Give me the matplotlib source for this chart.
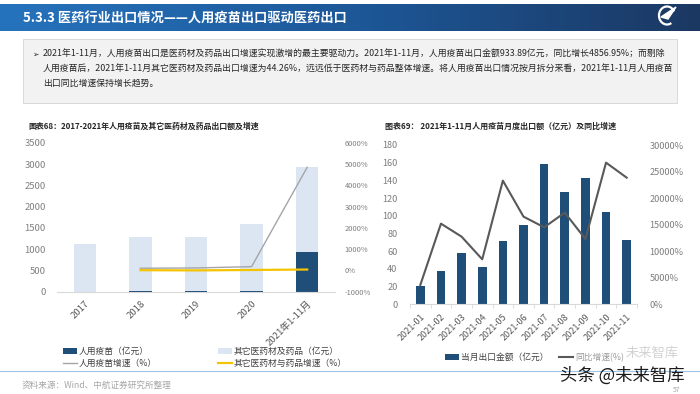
import numpy as np
import matplotlib
matplotlib.use("Agg")
import matplotlib.pyplot as plt
from matplotlib.colors import LinearSegmentedColormap
from matplotlib import patches
from matplotlib.ticker import FuncFormatter, MultipleLocator, FixedLocator

plt.rcParams['font.family'] = ['Noto Sans CJK SC', 'DejaVu Sans']
plt.rcParams['axes.unicode_minus'] = False

# ---------------- data ----------------
years = ['2017', '2018', '2019', '2020', '2021年1-11月']
vaccine = [4.0, 8.1, 9.0, 18.8, 933.89]
other = [1125, 1280, 1280, 1571, 2000]
vaccine_growth = [np.nan, 104, 118, 180, 4856.95]
other_growth = [np.nan, 13, 3, 22, 44.26]

months = ['2021-01', '2021-02', '2021-03', '2021-04', '2021-05', '2021-06',
          '2021-07', '2021-08', '2021-09', '2021-10', '2021-11']
monthly_export = [20.3, 37.3, 58.4, 42.2, 71.5, 89.2, 158.1, 126.9, 142.7, 103.9, 72.7]
monthly_growth = [3640, 15190, 12740, 8475, 23290, 16510, 14500, 17260, 12300, 26680, 23850]

title_text = '5.3.3 医药行业出口情况——人用疫苗出口驱动医药出口'
para_lines = [
    '2021年1-11月，人用疫苗出口是医药材及药品出口增速实现激增的最主要驱动力。2021年1-11月，人用疫苗出口金额933.89亿元，同比增长4856.95%；而剔除',
    '人用疫苗后，2021年1-11月其它医药材及药品出口增速为44.26%，远远低于医药材与药品整体增速。将人用疫苗出口情况按月拆分来看，2021年1-11月人用疫苗',
    '出口同比增速保持增长趋势。',
]

W, H = 700, 394
fig = plt.figure(figsize=(7.0, 3.94), dpi=100)
fig.patch.set_facecolor('white')

def fx(x):
    return x / W

def fy(y):
    return 1 - y / H

# ---------------- header ----------------
hax = fig.add_axes([0, fy(31), 1, 27 / H])
cmap = LinearSegmentedColormap.from_list('hdr', ['#2673bd', '#1d5899', '#1b3862'])
grad = np.linspace(0, 1, 256).reshape(1, -1)
hax.imshow(grad, cmap=cmap, aspect='auto', extent=[0, W, 31, 4])
hax.set_xlim(0, W)
hax.set_ylim(31, 4)
hax.axis('off')
hax.text(23, 18.5, title_text, color='white', fontsize=9.5, fontweight='bold', va='center', ha='left')
hax.add_patch(patches.Arc((667, 15.5), 16, 18, theta1=60, theta2=330, color='white', lw=1.6))
hax.add_patch(patches.Polygon([[661, 17], [676, 7], [668, 19]], closed=True, color='white'))

# ---------------- text box ----------------
fig.patches.append(patches.Rectangle((fx(22.7), fy(103)), (677 - 22.7) / W, 64 / H,
                                     transform=fig.transFigure, facecolor='#f2f2f2',
                                     edgecolor='#d4d4d4', lw=0.6))
fig.text(fx(32), fy(54), '➢', fontsize=5.5, va='center', ha='left', color='#262626',
         family=['DejaVu Sans'])
for i, line in enumerate(para_lines):
    fig.text(fx(43), fy(54 + 14.6 * i), line, fontsize=6.38, va='center', ha='left', color='#262626')

# ---------------- chart titles ----------------
fig.text(fx(28), fy(126), '图表68：2017-2021年人用疫苗及其它医药材及药品出口额及增速',
         fontsize=5.7, fontweight='bold', va='center', ha='left', color='#262626')
fig.text(fx(385), fy(126), '图表69： 2021年1-11月人用疫苗月度出口额（亿元）及同比增速',
         fontsize=5.75, fontweight='bold', va='center', ha='left', color='#262626')

DARK = '#1f4e79'
LIGHT = '#dce6f2'
GRAY_L = '#a5a5a5'
YELLOW = '#f5c400'

# ---------------- left chart ----------------
ax1 = fig.add_axes([fx(57), fy(291.7), 278 / W, 148.7 / H])
x = np.arange(len(years))
b_vac = ax1.bar(x, vaccine, width=0.4, color=DARK, zorder=2)
b_oth = ax1.bar(x, other, width=0.4, bottom=vaccine, color=LIGHT, zorder=2)
ax1.set_xlim(-0.5, len(years) - 0.5)
ax1.set_ylim(0, 3500)
ax1.yaxis.set_major_locator(MultipleLocator(500))
ax1.set_xticks(x)
ax1.set_xticklabels(years, rotation=45, ha='right', rotation_mode='anchor')
for s in ['top', 'right', 'left']:
    ax1.spines[s].set_visible(False)
ax1.spines['bottom'].set_color('#d9d9d9')
ax1.tick_params(axis='y', length=0, labelsize=6.8, labelcolor='#7f7f7f', pad=8)
ax1.tick_params(axis='x', length=0, labelsize=6.9, labelcolor='#595959', pad=5)

ax1r = ax1.twinx()
l_vac, = ax1r.plot(x, vaccine_growth, color=GRAY_L, lw=1.0, zorder=3)
l_oth, = ax1r.plot(x, other_growth, color=YELLOW, lw=1.6, zorder=4)
ax1r.set_ylim(-1000, 6000)
ax1r.yaxis.set_major_locator(MultipleLocator(1000))
ax1r.yaxis.set_major_formatter(FuncFormatter(lambda v, p: f'{int(v)}%'))
for s in ['top', 'right', 'left', 'bottom']:
    ax1r.spines[s].set_visible(False)
ax1r.tick_params(axis='y', length=0, labelsize=5.4, labelcolor='#7f7f7f', pad=7)

leg_kw = dict(frameon=False, fontsize=6.3, handlelength=1.6, handletextpad=0.2,
              labelspacing=0.35, borderpad=0, borderaxespad=0, labelcolor='#404040',
              loc='upper left')
fig.legend([b_vac, l_vac], ['人用疫苗（亿元）', '人用疫苗增速（%）'],
           bbox_to_anchor=(fx(63), fy(347)), **leg_kw)
fig.legend([b_oth, l_oth], ['其它医药材及药品（亿元）', '其它医药材与药品增速（%）'],
           bbox_to_anchor=(fx(218), fy(347)), **leg_kw)

# ---------------- right chart ----------------
ax2 = fig.add_axes([fx(410), fy(304.3), 227 / W, 159.3 / H])
xm = np.arange(len(months))
b_m = ax2.bar(xm, monthly_export, width=0.42, color=DARK, zorder=2)
ax2.set_xlim(-0.5, len(months) - 0.5)
ax2.set_ylim(0, 180)
ax2.yaxis.set_major_locator(MultipleLocator(20))
ax2.set_xticks(xm)
ax2.set_xticklabels(months, rotation=45, ha='right', rotation_mode='anchor')
ax2.xaxis.set_minor_locator(FixedLocator(np.arange(-0.5, len(months), 1.0)))
for s in ['top', 'right', 'left']:
    ax2.spines[s].set_visible(False)
ax2.spines['bottom'].set_color('#d9d9d9')
ax2.tick_params(axis='y', length=0, labelsize=6.6, labelcolor='#7f7f7f', pad=9)
ax2.tick_params(axis='x', which='major', length=0, labelsize=6.5, labelcolor='#595959', pad=6)
ax2.tick_params(axis='x', which='minor', length=3, color='#d9d9d9')

ax2r = ax2.twinx()
l_m, = ax2r.plot(xm, monthly_growth, color='#595959', lw=1.5, zorder=3)
ax2r.set_ylim(0, 30000)
ax2r.yaxis.set_major_locator(MultipleLocator(5000))
ax2r.yaxis.set_major_formatter(FuncFormatter(lambda v, p: f'{int(v)}%'))
for s in ['top', 'right', 'left', 'bottom']:
    ax2r.spines[s].set_visible(False)
ax2r.tick_params(axis='y', length=0, labelsize=6.6, labelcolor='#7f7f7f', pad=9)

fig.legend([b_m], ['当月出口金额（亿元）'], bbox_to_anchor=(fx(445), fy(353)), **leg_kw)
fig.legend([l_m], ['同比增速(%)'], bbox_to_anchor=(fx(559), fy(353)),
           **{**leg_kw, 'labelcolor': '#9a9a9a'})

# ---------------- footer ----------------
fig.add_artist(plt.Line2D([0, 1], [fy(371), fy(371)], transform=fig.transFigure,
                          color='#9dc3e6', lw=0.8))
fig.text(fx(22), fy(385.5), '资料来源：Wind、中航证券研究所整理', fontsize=6.2,
         color='#a6a6a6', va='center', ha='left')
fig.text(fx(626), fy(353), '未来智库', fontsize=9.5, color='#c8c8c8', alpha=0.8,
         va='center', ha='left')
fig.text(fx(560), fy(376), '头条 @未来智库', fontsize=12.5, color='#1a1a1a',
         va='center', ha='left')
fig.text(fx(677), fy(390), '57', fontsize=4.8, color='#a6a6a6', va='center', ha='center')

fig.savefig('out.png', dpi=100)
